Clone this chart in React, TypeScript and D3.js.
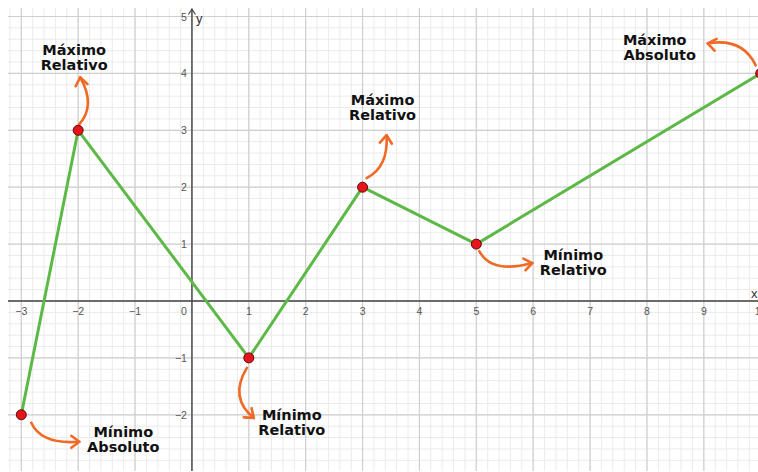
import React from "react";
import * as d3 from "d3";

const xs = [-3, -2, 1, 3, 5, 10];
const ys = [-2, 3, -1, 2, 1, 4];
const xTicks = [-3, -2, -1, 0, 1, 2, 3, 4, 5, 6, 7, 8, 9, 10];
const yTicks = [-2, -1, 1, 2, 3, 4, 5];
const labelTop = ["Mínimo", "Máximo", "Mínimo", "Máximo", "Mínimo", "Máximo"];
const labelBottom = ["Absoluto", "Relativo", "Relativo", "Relativo", "Relativo", "Absoluto"];

const W = 758;
const H = 472;

// layout of annotations relative to each point (pixels)
const annLayout = [
  { tx: 102, ty: 22, dx2: 0, arrow: "M 10 8 Q 20 30 58 27", head: [58, 27, 0] },
  { tx: -4, ty: -75, dx2: 0, arrow: "M 1 -6 Q 18 -25 2 -53", head: [2, -53, -100] },
  { tx: 43, ty: 62, dx2: 0, arrow: "M -2 10 Q -20 40 5 60", head: [5, 60, 40] },
  { tx: 20, ty: -82, dx2: 0, arrow: "M 4 -9 Q 26 -20 24 -52", head: [24, -52, -85] },
  { tx: 97, ty: 16, dx2: 0, arrow: "M 3 7 Q 15 30 56 19", head: [56, 19, -10] },
  { tx: -106, ty: -28, dx2: 5, arrow: "M -5 -8 Q -18 -36 -53 -30", head: [-53, -30, 190] },
];

export default function App() {
  const x = d3.scaleLinear().domain([-3, 10]).range([21.3, 760.7]);
  const y = d3.scaleLinear().domain([-2, 5]).range([414.8, 16.5]);
  const x0 = x(0);
  const y0 = y(0);

  const minorX = d3.range(-34, 101).map((i) => i / 10).filter((v) => Math.round(v * 10) % 2 === 0);
  const minorY = d3.range(-32, 56).map((i) => i / 10).filter((v) => Math.round(v * 10) % 2 === 0);
  const majorX = d3.range(-3, 11);
  const majorY = d3.range(-3, 6);

  const line = d3
    .line<number>()
    .x((_, i) => x(xs[i]))
    .y((_, i) => y(ys[i]));

  const clipL = 8, clipT = 8, clipB = 471;
  const annFont = "'DejaVu Sans', Verdana, sans-serif";

  return (
    <div style={{ position: "absolute", left: 0, top: 0, width: W, height: H, background: "#fff" }}>
      <svg width={W} height={H} style={{ display: "block" }}>
        <defs>
          <clipPath id="gridclip">
            <rect x={clipL} y={clipT} width={W - clipL} height={clipB - clipT} />
          </clipPath>
        </defs>
        <g clipPath="url(#gridclip)">
          {minorX.map((v) => (
            <line key={"mx" + v} x1={x(v)} x2={x(v)} y1={0} y2={H} stroke="#ebebeb" strokeWidth={1} />
          ))}
          {minorY.map((v) => (
            <line key={"my" + v} y1={y(v)} y2={y(v)} x1={0} x2={W} stroke="#ebebeb" strokeWidth={1} />
          ))}
          {majorX.map((v) => (
            <line key={"Mx" + v} x1={x(v)} x2={x(v)} y1={0} y2={H} stroke="#cfcfcf" strokeWidth={1.2} />
          ))}
          {majorY.map((v) => (
            <line key={"My" + v} y1={y(v)} y2={y(v)} x1={0} x2={W} stroke="#cfcfcf" strokeWidth={1.2} />
          ))}
        </g>
        {/* axes */}
        <line x1={clipL} x2={W} y1={y0} y2={y0} stroke="#444" strokeWidth={1.4} />
        <line x1={x0} x2={x0} y1={clipB} y2={9} stroke="#444" strokeWidth={1.4} />
        <path d={`M ${x0 - 3.5} 14.5 L ${x0} 9 L ${x0 + 3.5} 14.5`} fill="none" stroke="#444" strokeWidth={1.2} />
        <text x={x0 + 4} y={23} fontFamily="Liberation Sans, Arial, sans-serif" fontSize={13} fill="#333">y</text>
        <text x={751} y={298} fontFamily="Liberation Sans, Arial, sans-serif" fontSize={13} fill="#333">x</text>
        {xTicks.map((v) => (
          <text
            key={"xt" + v}
            x={v === 0 ? x0 - 8 : x(v)}
            y={y0 + 14}
            textAnchor="middle"
            fontFamily="Liberation Sans, Arial, sans-serif"
            fontSize={10.5}
            fill="#555"
          >
            {v < 0 ? "\u2212" + Math.abs(v) : String(v)}
          </text>
        ))}
        {yTicks.map((v) => (
          <text
            key={"yt" + v}
            x={x0 - 5}
            y={y(v) + 4}
            textAnchor="end"
            fontFamily="Liberation Sans, Arial, sans-serif"
            fontSize={10.5}
            fill="#555"
          >
            {v < 0 ? "\u2212" + Math.abs(v) : String(v)}
          </text>
        ))}
        {/* data line */}
        <path d={line(xs) || ""} fill="none" stroke="#5cb946" strokeWidth={3} strokeLinejoin="round" />
        {/* annotations */}
        {xs.map((v, i) => {
          const px = x(v);
          const py = y(ys[i]);
          const a = annLayout[i];
          const [hx, hy, ang] = a.head;
          return (
            <g key={"ann" + i}>
              <g transform={`translate(${px},${py})`}>
                <path d={a.arrow} fill="none" stroke="#f06a25" strokeWidth={2.6} strokeLinecap="round" />
                <path
                  d="M -8 -6 L 0 0 L -8 6"
                  transform={`translate(${hx},${hy}) rotate(${ang})`}
                  fill="none"
                  stroke="#f06a25"
                  strokeWidth={2.6}
                  strokeLinecap="round"
                  strokeLinejoin="round"
                />
              </g>
              <text
                x={px + a.tx}
                y={py + a.ty}
                textAnchor="middle"
                fontFamily={annFont}
                fontWeight="bold"
                fontSize={14.5}
                fill="#111"
              >
                {labelTop[i]}
              </text>
              <text
                x={px + a.tx + a.dx2}
                y={py + a.ty + 15}
                textAnchor="middle"
                fontFamily={annFont}
                fontWeight="bold"
                fontSize={14.5}
                fill="#111"
              >
                {labelBottom[i]}
              </text>
            </g>
          );
        })}
        {/* points */}
        {xs.map((v, i) => (
          <circle key={"pt" + i} cx={x(v)} cy={y(ys[i])} r={5} fill="#e8141c" stroke="#5a0a0a" strokeWidth={1} />
        ))}
      </svg>
    </div>
  );
}
